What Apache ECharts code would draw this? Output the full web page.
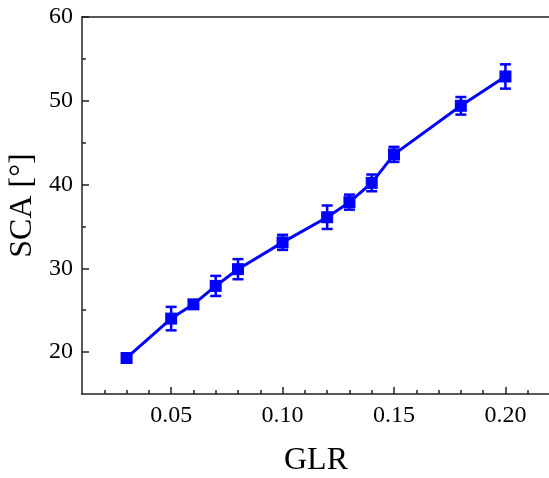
<!DOCTYPE html>
<html>
<head>
<meta charset="utf-8">
<script src="https://cdn.jsdelivr.net/npm/echarts@6/dist/echarts.min.js"></script>
<style>html,body{margin:0;padding:0;background:#fff;}#c{width:549px;height:478px;}</style>
</head>
<body>
<div id="c"></div>
<script>
const glr = [0.03, 0.05, 0.06, 0.07, 0.08, 0.10, 0.12, 0.13, 0.14, 0.15, 0.18, 0.20];
const sca = [19.3, 24.0, 25.7, 27.9, 29.9, 33.1, 36.1, 37.9, 40.2, 43.6, 49.4, 52.9];
const err = [0.45, 1.4, 0.5, 1.2, 1.2, 0.9, 1.4, 0.9, 1.0, 0.9, 1.05, 1.45];
const xMajor = [0.05, 0.10, 0.15, 0.20];
const xMinor = [0.02, 0.03, 0.04, 0.06, 0.07, 0.08, 0.09, 0.11, 0.12, 0.13, 0.14, 0.16, 0.17, 0.18, 0.19, 0.21];
const yMajor = [20, 30, 40, 50, 60];
const yMinor = [25, 35, 45, 55];
const xName = 'GLR';
const yName = 'SCA [°]';

const FONT = "'Liberation Serif', 'Times New Roman', serif";
const AX = '#222';
const BLUE = '#0000ff';
const gridRect = {left: 82, top: 17, width: 468, height: 377, containLabel: false, outerBoundsMode: 'none'};

const chart = echarts.init(document.getElementById('c'), null, {renderer: 'canvas'});
chart.setOption({
  animation: false,
  backgroundColor: '#fff',
  grid: [Object.assign({}, gridRect), Object.assign({}, gridRect)],
  xAxis: [
    {
      gridIndex: 0, type: 'value', position: 'bottom', min: 0.01, max: 0.22,
      axisLine: {show: true, lineStyle: {color: AX, width: 1.5}},
      axisTick: {show: true, inside: true, length: 7, customValues: xMajor, lineStyle: {color: AX, width: 1.5}},
      axisLabel: {show: true, customValues: xMajor, margin: 10, color: '#000', fontFamily: FONT, fontSize: 24,
        formatter: v => Number(v).toFixed(2)},
      splitLine: {show: false},
      name: xName, nameLocation: 'middle', nameGap: 51,
      nameTextStyle: {fontFamily: FONT, fontSize: 32, color: '#000'}
    },
    {
      gridIndex: 0, type: 'value', position: 'top', min: 0.01, max: 0.22,
      axisLine: {show: true, lineStyle: {color: AX, width: 1.5}},
      axisTick: {show: false}, axisLabel: {show: false}, splitLine: {show: false}
    },
    {
      gridIndex: 1, type: 'value', position: 'bottom', min: 0.01, max: 0.22,
      axisLine: {show: false},
      axisTick: {show: true, inside: true, length: 4, customValues: xMinor, lineStyle: {color: AX, width: 1.5}},
      axisLabel: {show: false}, splitLine: {show: false}
    }
  ],
  yAxis: [
    {
      gridIndex: 0, type: 'value', position: 'left', min: 15, max: 60,
      axisLine: {show: true, lineStyle: {color: AX, width: 1.5}},
      axisTick: {show: true, inside: true, length: 7, customValues: yMajor, lineStyle: {color: AX, width: 1.5}},
      axisLabel: {show: true, customValues: yMajor, margin: 9, color: '#000', fontFamily: FONT, fontSize: 24},
      splitLine: {show: false},
      name: yName, nameLocation: 'middle', nameGap: 41, nameRotate: 90,
      nameTextStyle: {fontFamily: FONT, fontSize: 32, color: '#000'}
    },
    {
      gridIndex: 1, type: 'value', position: 'left', min: 15, max: 60,
      axisLine: {show: false},
      axisTick: {show: true, inside: true, length: 4, customValues: yMinor, lineStyle: {color: AX, width: 1.5}},
      axisLabel: {show: false}, splitLine: {show: false}
    }
  ],
  series: [
    {
      type: 'custom', xAxisIndex: 0, yAxisIndex: 0, z: 3,
      data: glr.map((x, i) => [x, sca[i], err[i]]),
      renderItem: function (params, api) {
        const x = api.value(0), y = api.value(1), e = api.value(2);
        const t = api.coord([x, y + e]);
        const b = api.coord([x, y - e]);
        const hw = 5.5;
        const st = {stroke: BLUE, lineWidth: 2.5};
        return {
          type: 'group',
          children: [
            {type: 'line', shape: {x1: t[0], y1: t[1], x2: b[0], y2: b[1]}, style: st},
            {type: 'line', shape: {x1: t[0] - hw, y1: t[1], x2: t[0] + hw, y2: t[1]}, style: st},
            {type: 'line', shape: {x1: b[0] - hw, y1: b[1], x2: b[0] + hw, y2: b[1]}, style: st}
          ]
        };
      }
    },
    {
      type: 'line', xAxisIndex: 0, yAxisIndex: 0, z: 4,
      data: glr.map((x, i) => [x, sca[i]]),
      symbol: 'rect', symbolSize: 12,
      lineStyle: {color: BLUE, width: 3},
      itemStyle: {color: BLUE},
      showSymbol: true
    }
  ]
});
</script>
</body>
</html>
